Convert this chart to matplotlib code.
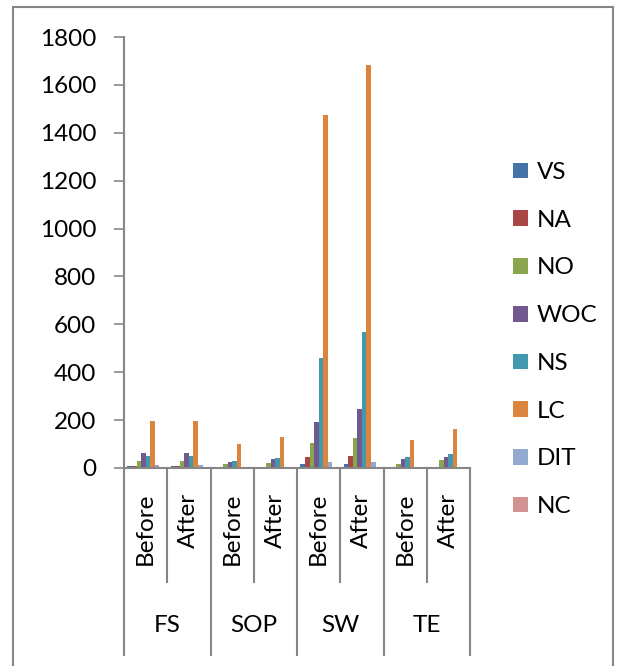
import numpy as np
import matplotlib
matplotlib.use("Agg")
import matplotlib.pyplot as plt
from matplotlib.patches import Rectangle, Patch

plt.rcParams['font.family'] = ['Lato', 'DejaVu Sans']

# Datos
grupos = ["FS", "SOP", "SW", "TE"]
fases = ["Before", "After"]
series = ["VS", "NA", "NO", "WOC", "NS", "LC", "DIT", "NC"]

vs = [10, 10, 4, 4, 18, 18, 3, 3]
na = [8, 8, 2, 5, 46, 52, 1, 1]
no = [28, 29, 15, 22, 104, 127, 18, 33]
woc = [64, 64, 25, 36, 192, 248, 38, 48]
ns = [49, 52, 29, 43, 458, 567, 47, 60]
lc = [196, 198, 99, 128, 1474, 1683, 116, 164]
dit = [12, 12, 4, 5, 26, 25, 2, 2]
nc = [0, 0, 0, 0, 0, 0, 0, 0]
valores = [vs, na, no, woc, ns, lc, dit, nc]

colores = ['#4572A7', '#AA4643', '#89A54E', '#71588F',
           '#4198AF', '#DB843D', '#93A9CF', '#D19392']
gris = '#868686'
fs = 17.5

W, H = 617, 666
fig = plt.figure(figsize=(W / 100, H / 100), dpi=100)
ax = fig.add_axes([124 / W, 1 - 468 / H, (470 - 124) / W, (468 - 37) / H])

n_cat = len(grupos) * len(fases)
x = np.arange(n_cat)
ancho = 1 / 9.5
for j, (nombre, vals) in enumerate(zip(series, valores)):
    ax.bar(x + (j - 3.5) * ancho, vals, ancho, color=colores[j], label=nombre)

ax.set_xlim(-0.5, n_cat - 0.5)
ax.set_ylim(0, 1800)
ax.set_yticks(np.arange(0, 1801, 200))
ax.set_xticks([])
for lado in ["top", "right"]:
    ax.spines[lado].set_visible(False)
for lado in ["left", "bottom"]:
    ax.spines[lado].set_color(gris)
    ax.spines[lado].set_linewidth(1.5)
ax.tick_params(axis='y', direction='out', length=7, width=1.2, color=gris,
               labelsize=fs, pad=13)

# Ejes jerárquicos
tr = ax.get_xaxis_transform()
for i in range(n_cat):
    ax.text(i, -0.058, fases[i % 2], rotation=90, ha='center', va='top',
            fontsize=fs, transform=tr)
for i in range(n_cat + 1):
    fondo = -0.434 if i % 2 == 0 else -0.2645
    ax.plot([i - 0.5, i - 0.5], [0, fondo], color=gris, lw=1.5,
            transform=tr, clip_on=False)
for g, nombre in enumerate(grupos):
    ax.text(2 * g + 0.5, -0.365, nombre, ha='center', va='center',
            fontsize=fs, transform=tr)

# Leyenda
manijas = [Patch(facecolor=c, label=s) for c, s in zip(colores, series)]
fig.legend(handles=manijas, loc='upper left',
           bbox_to_anchor=(513 / W, 1 - 162 / H), frameon=False,
           fontsize=fs, handlelength=0.62, handleheight=0.62,
           handletextpad=0.35, labelspacing=1.1, borderpad=0,
           borderaxespad=0)

# Marco
fig.patches.append(Rectangle((12.5 / W, -0.05), 600 / W, 1.05 - 7.5 / H,
                             transform=fig.transFigure, fill=False,
                             edgecolor=gris, lw=1.5))

fig.savefig("out.png", dpi=100)
